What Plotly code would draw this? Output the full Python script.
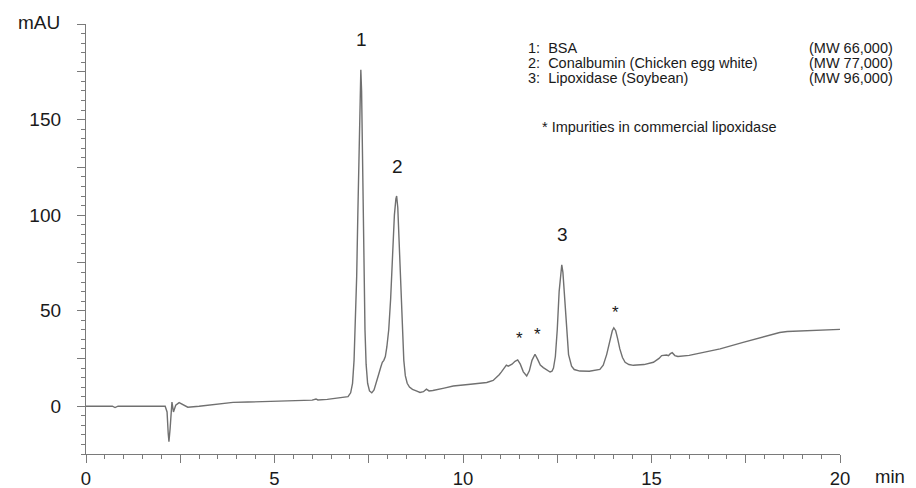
import plotly.graph_objects as go

# ---- data ----
time_min = [0.0, 0.7, 0.77, 0.85, 2.1, 2.15, 2.18, 2.2, 2.23, 2.26, 2.28, 2.32, 2.38, 2.47, 2.6, 2.7,
            3.0, 3.4, 3.9, 4.3, 4.8, 5.2, 5.6, 6.0, 6.1, 6.15, 6.4, 6.8, 6.95,
            7.02, 7.07, 7.11, 7.15, 7.18, 7.21, 7.24, 7.27, 7.29, 7.31, 7.33, 7.35, 7.37, 7.40, 7.43, 7.47,
            7.52, 7.58, 7.64, 7.70, 7.76, 7.82, 7.86, 7.90, 7.94, 7.98,
            8.03, 8.08, 8.13, 8.18, 8.22, 8.24, 8.27, 8.31, 8.35, 8.39, 8.43, 8.47, 8.52, 8.58, 8.66, 8.76,
            8.86, 8.95, 9.03, 9.1, 9.2, 9.5, 9.74, 10.2, 10.63, 10.8, 10.89, 10.96, 11.02, 11.1, 11.15,
            11.2, 11.25, 11.3, 11.38, 11.45, 11.52, 11.6, 11.69, 11.76, 11.83, 11.91, 11.98, 12.05, 12.13,
            12.22, 12.31, 12.36, 12.4, 12.45, 12.5, 12.55, 12.59, 12.62, 12.65, 12.7, 12.75, 12.8, 12.88,
            12.95, 13.1, 13.35, 13.63, 13.72, 13.81, 13.9, 13.96, 14.0, 14.05, 14.1, 14.16, 14.23, 14.3,
            14.4, 14.52, 14.8, 15.05, 15.2, 15.27, 15.4, 15.45, 15.5, 15.55, 15.62, 15.7, 16.0, 16.37,
            16.82, 17.43, 18.0, 18.4, 18.6, 19.0, 19.5, 20.0]
absorbance_mau = [0.0, 0.0, -0.7, 0.0, 0.0, -3.0, -14.0, -18.6, -12.0, 0.0, 2.2, -3.0, 0.5, 1.9, 0.3, -0.5,
                  0.0, 1.0, 2.0, 2.2, 2.4, 2.6, 2.8, 3.2, 3.8, 3.3, 3.6, 4.4, 5.0,
                  7.0, 12.0, 24.0, 45.0, 68.0, 100.0, 135.0, 165.0, 176.0, 165.0, 135.0, 100.0, 70.0, 40.0, 22.0, 12.0,
                  8.0, 7.0, 8.5, 12.0, 16.5, 20.5, 23.0, 24.0, 26.0, 31.0,
                  40.0, 56.0, 80.0, 100.0, 108.5, 110.0, 104.0, 84.0, 60.0, 38.0, 24.0, 16.0, 12.0, 10.0, 8.8, 8.0,
                  7.2, 7.6, 8.9, 8.0, 8.2, 9.5, 10.6, 11.5, 12.4, 13.5, 15.0, 16.5, 18.0, 20.0, 21.5,
                  21.0, 21.5, 22.0, 23.5, 24.2, 22.0, 18.0, 15.8, 18.5, 24.0, 27.2, 24.5, 21.5, 20.2,
                  19.0, 17.9, 18.3, 20.0, 26.0, 40.0, 60.0, 71.0, 74.0, 70.0, 54.0, 37.0, 27.0, 21.0,
                  19.2, 18.4, 18.3, 19.3, 21.5, 27.0, 35.0, 39.5, 41.0, 39.5, 35.5, 30.0, 25.5, 23.0,
                  21.8, 21.4, 21.8, 23.0, 25.0, 26.5, 26.8, 26.4, 27.5, 28.0, 26.5, 26.0, 26.6, 28.0,
                  30.0, 33.4, 36.5, 38.6, 39.1, 39.4, 39.8, 40.2]
assert len(time_min) == len(absorbance_mau)

peak_labels = ["1", "2", "3"]
peak_times = [7.29, 8.24, 12.62]
peak_heights = [176, 110, 74]

impurity_times = [11.45, 11.91, 14.0]
impurity_heights = [24.2, 27.2, 41.0]

legend_names = ["1:  BSA", "2:  Conalbumin (Chicken egg white)", "3:  Lipoxidase (Soybean)"]
legend_mw = ["(MW 66,000)", "(MW 77,000)", "(MW 96,000)"]
footnote = "* Impurities in commercial lipoxidase"

x_tickvals = [0, 2.5, 5, 7.5, 10, 12.5, 15, 17.5, 20]
x_ticktext = ["0", "", "5", "", "10", "", "15", "", "20"]
y_tickvals = [0, 25, 50, 75, 100, 125, 150, 175, 200]
y_ticktext = ["0", "", "50", "", "100", "", "150", "", ""]

FONT = "Liberation Sans, Arial, Helvetica, sans-serif"
AXIS_COLOR = "#7a7a7a"
TEXT_COLOR = "#1a1a1a"

fig = go.Figure()
fig.add_trace(go.Scatter(x=time_min, y=absorbance_mau, mode="lines",
                         line=dict(color="#707070", width=1.4), showlegend=False,
                         hoverinfo="x+y"))

axis_common = dict(showline=True, linecolor=AXIS_COLOR, linewidth=1.3, ticks="outside",
                   tickcolor=AXIS_COLOR, tickwidth=1.2, ticklen=8, showgrid=False, zeroline=False,
                   tickmode="array", automargin=False)

fig.update_xaxes(range=[0, 20], tickvals=x_tickvals, ticktext=x_ticktext,
                 tickfont=dict(family=FONT, size=18.5, color=TEXT_COLOR),
                 minor=dict(ticks="outside", dtick=0.5, tick0=0, ticklen=4, tickcolor=AXIS_COLOR, tickwidth=1.1),
                 ticklabelstandoff=0, **axis_common)
fig.update_yaxes(range=[-25, 200], tickvals=y_tickvals, ticktext=y_ticktext,
                 tickfont=dict(family=FONT, size=19, color=TEXT_COLOR),
                 minor=dict(ticks="outside", dtick=5, tick0=0, ticklen=4, tickcolor=AXIS_COLOR, tickwidth=1.1),
                 ticklabelstandoff=12, **axis_common)

annotations = []
for lab, t, h in zip(peak_labels, peak_times, peak_heights):
    annotations.append(dict(x=t, y=h, text=lab, showarrow=False, yshift=30, xshift=1,
                            font=dict(family=FONT, size=19, color=TEXT_COLOR)))
for t, h, ys in zip(impurity_times, impurity_heights, [21, 20, 15]):
    annotations.append(dict(x=t, y=h, text="*", showarrow=False, yshift=ys, xshift=2,
                            font=dict(family=FONT, size=17, color=TEXT_COLOR)))

LEG_FONT = dict(family=FONT, size=14.5, color=TEXT_COLOR)
legend_y0 = (454 - 48) / 430
line_step = 15 / 430
for i, (name, mw) in enumerate(zip(legend_names, legend_mw)):
    yy = legend_y0 - i * line_step
    annotations.append(dict(xref="paper", yref="paper", x=(526 - 86) / 754, y=yy, text=name,
                            xanchor="left", yanchor="middle", showarrow=False, font=LEG_FONT))
    annotations.append(dict(xref="paper", yref="paper", x=(895 - 86) / 754, y=yy, text=mw,
                            xanchor="right", yanchor="middle", showarrow=False, font=LEG_FONT))
annotations.append(dict(xref="paper", yref="paper", x=(540 - 86) / 754, y=(454 - 127) / 430, text=footnote,
                        xanchor="left", yanchor="middle", showarrow=False, font=LEG_FONT))
annotations.append(dict(xref="paper", yref="paper", x=0, y=1, text="mAU", xanchor="right", yanchor="middle",
                        xshift=-24, yshift=2, showarrow=False,
                        font=dict(family=FONT, size=19, color=TEXT_COLOR)))
annotations.append(dict(xref="paper", yref="paper", x=1, y=0, text="min", xanchor="left", yanchor="top",
                        xshift=33, yshift=-10, showarrow=False,
                        font=dict(family=FONT, size=18.5, color=TEXT_COLOR)))

fig.update_layout(width=916, height=488, margin=dict(l=86, r=76, t=24, b=34),
                  plot_bgcolor="white", paper_bgcolor="white", annotations=annotations,
                  showlegend=False)

fig.write_html("out.html", config={"responsive": False, "displayModeBar": False},
               post_script="document.body.style.margin='0';document.body.style.padding='0';"
                           "document.documentElement.style.overflow='hidden';")
